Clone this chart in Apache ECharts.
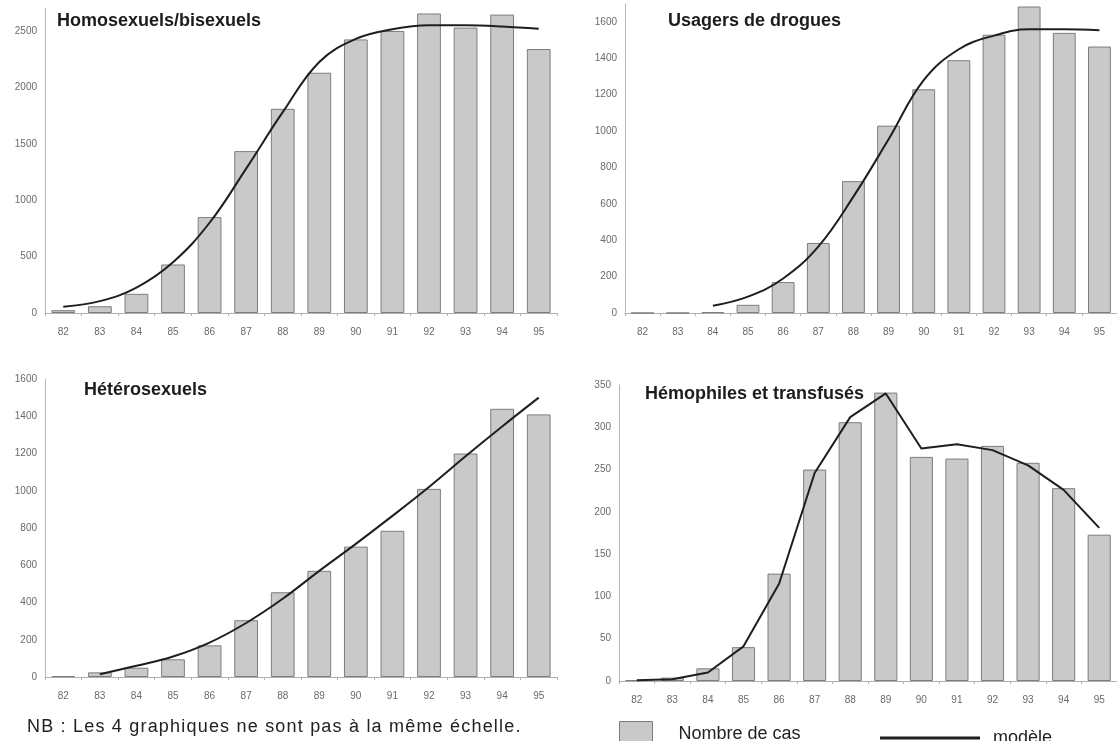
<!DOCTYPE html>
<html>
<head>
<meta charset="utf-8">
<script src="https://cdn.jsdelivr.net/npm/echarts@6/dist/echarts.min.js"></script>
<style>
html,body{margin:0;padding:0;background:#fff;}
#wrap{position:relative;width:1117px;height:741px;overflow:hidden;}
#c{width:1117px;height:741px;}
#note{position:absolute;left:27px;top:716px;font-family:'Liberation Sans',Arial,sans-serif;font-size:18px;letter-spacing:1.2px;color:#222;white-space:nowrap;line-height:20px;}
</style>
</head>
<body>
<div id="wrap"><div id="c"></div><div id="note"></div></div>
<script>
const years = ['82','83','84','85','86','87','88','89','90','91','92','93','94','95'];

const homoCases  = [25, 60, 170, 430, 850, 1435, 1810, 2130, 2425, 2500, 2655, 2530, 2645, 2340];
const homoModel  = [55, 105, 225, 450, 800, 1280, 1780, 2225, 2430, 2515, 2550, 2550, 2540, 2520];

const drugCases  = [0, 0, 5, 45, 170, 385, 725, 1030, 1230, 1390, 1530, 1685, 1540, 1465];
const drugModel  = [null, null, 40, 90, 190, 365, 640, 955, 1280, 1450, 1525, 1560, 1560, 1555];

const heteroCases = [5, 25, 50, 95, 170, 305, 455, 570, 700, 785, 1010, 1200, 1440, 1410];
const heteroModel = [null, 15, 60, 110, 185, 290, 420, 570, 715, 865, 1020, 1185, 1345, 1500];

const hemoCases  = [1, 4, 15, 40, 127, 250, 306, 341, 265, 263, 278, 258, 228, 173];
const hemoModel  = [1, 2, 10, 41, 115, 246, 312, 340, 275, 280, 273, 255, 226, 181];

const panelTitles = ['Homosexuels/bisexuels', 'Usagers de drogues', 'Hétérosexuels', 'Hémophiles et transfusés'];
const yMax = [2700, 1700, 1600, 350];
const yStep = [500, 200, 200, 50];
const note = 'NB : Les 4 graphiques ne sont pas à la même échelle.';
const barName = 'Nombre de cas';
const lineName = 'modèle';

document.getElementById('note').textContent = note;

const grids = [
  {left: 45, top: 8.4, width: 512, height: 304.6},
  {left: 625, top: 3.8, width: 502, height: 309.2},
  {left: 45, top: 379, width: 512, height: 298},
  {left: 619, top: 385, width: 506, height: 296}
];

const casesAll = [homoCases, drugCases, heteroCases, hemoCases];
const modelAll = [homoModel, drugModel, heteroModel, hemoModel];

const barStyle = {color: '#c9c9c9', borderColor: '#7d7d7d', borderWidth: 1};

const chart = echarts.init(document.getElementById('c'), null, {renderer: 'canvas'});

const xAxis = grids.map((g, i) => ({
  type: 'category', gridIndex: i, data: years,
  axisLine: {lineStyle: {color: '#b0b0b0', width: 1}},
  axisTick: {show: true, length: 3, lineStyle: {color: '#b0b0b0'}},
  axisLabel: {color: '#6a6a6a', fontSize: 10, margin: 14, fontFamily: 'Liberation Sans'}
}));
const yAxis = grids.map((g, i) => ({
  type: 'value', gridIndex: i, min: 0, max: yMax[i], interval: yStep[i],
  splitLine: {show: false},
  axisLine: {show: true, lineStyle: {color: '#b8b8b8', width: 1}},
  axisTick: {show: false},
  axisLabel: {color: '#6a6a6a', fontSize: 10, margin: 8, fontFamily: 'Liberation Sans',
    formatter: (v) => (v % yStep[i] === 0 ? String(v) : '')}
}));

const series = [];
for (let i = 0; i < 4; i++) {
  series.push({
    name: barName, type: 'bar', xAxisIndex: i, yAxisIndex: i,
    data: casesAll[i], barCategoryGap: '35%', itemStyle: barStyle, z: 2, silent: true
  });
  series.push({
    name: lineName, type: 'line', xAxisIndex: i, yAxisIndex: i,
    data: modelAll[i], smooth: i === 3 ? false : 0.4, showSymbol: false, symbol: 'none',
    lineStyle: {color: '#1e1e1e', width: 2}, itemStyle: {color: '#1e1e1e'}, z: 3, silent: true
  });
}

const titlePos = [
  {left: 57, top: 12}, {left: 668, top: 12}, {left: 84, top: 381}, {left: 645, top: 385}
];
const title = panelTitles.map((t, i) => ({
  text: t, left: titlePos[i].left, top: titlePos[i].top, padding: 0,
  textStyle: {fontFamily: 'Liberation Sans', fontSize: 18, fontWeight: 'bold', color: '#1c1c1c'}
}));

const option = {
  animation: false,
  backgroundColor: '#fff',
  title: title,
  grid: grids,
  xAxis: xAxis,
  yAxis: yAxis,
  legend: [
    {data: [{name: barName, icon: 'rect', itemStyle: barStyle}], left: 619, top: 721, padding: 0,
      itemWidth: 33, itemHeight: 26, selectedMode: false,
      textStyle: {fontFamily: 'Liberation Sans', fontSize: 18, color: '#222', padding: [0, 0, 4, 21]}},
    {data: [{name: lineName, icon: 'rect', itemStyle: {color: '#1e1e1e'}}], left: 880, top: 729, padding: 0,
      itemWidth: 100, itemHeight: 3, selectedMode: false,
      textStyle: {fontFamily: 'Liberation Sans', fontSize: 18, color: '#222', padding: [0, 0, 4, 8]}}
  ],
  series: series
};
chart.setOption(option);
</script>
</body>
</html>
